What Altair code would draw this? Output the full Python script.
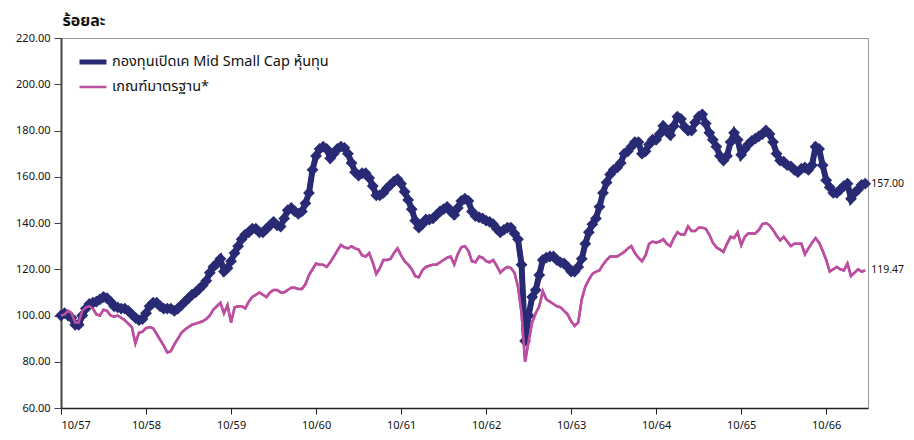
import altair as alt
import pandas as pd
import numpy as np

# half-month steps from 10/57
fund = [100,101,100,99,96,96,100,103,105,105.5,106,107,108,107.5,106,104,103.5,103,103,102,
        100.5,99,98,98.5,101,104,105.5,105.5,104,103,103,103,102,103,104.5,106,107.5,109,110,111.5,
        113,115,118.5,121,122.5,124.5,119,120.5,123.5,127,130,133,135,136,137.5,137.5,136,136,137.5,139,
        140.5,139,138.5,142,145.5,146.5,145,144,145,148.5,153,163,169,172,173,172,168,170,172,173,
        172.5,170,166,162,160.5,161.5,161.5,159.5,156,152,152,153,155,156.5,158,159,157,153.5,150,146,
        141,138,139.5,141.5,141.5,142,143.5,145,146,147,145,143.5,146.5,149.5,150.5,149.5,145,143,142.5,142,
        141,140.5,139.5,137.5,136,137,138,138,135.5,133,122,89,100,108,111,117.5,124,125,125.5,125.5,
        124,123,122.5,121,119,119,121,124.5,131,136,139.5,142,147,153,157.5,161,163,164,166,170,
        171,173,175,175,170,171,174,176,176,178.5,182,180,178,182,186,185,181.5,180,180,183.5,
        186,187,183,179,176,173,169,167,169,175,179,176,169.5,172,174,175.5,176.5,177.5,178.5,180,
        178.5,175,170,167,166.5,165,164.5,163,162,163.5,164,163,165,173,172,165,158.5,155.5,153,153,
        154.5,156,157,150.5,153,154.5,156.5,157]
bench = [100,100.5,102,101,97,97,102,103.5,104,103,100.5,100,102.5,102,100,99.5,100,99,98,96.5,
         95,88,92.5,93,94.5,95,94.5,92,89.5,87,84,84.5,87.5,90,92.5,94,95,96,96.5,97,
         97.5,98.5,100,102.5,104,105.5,101,104.5,97,103.5,104,104,103,106,108,109,110,109,108,110,
         111,111,110,110,111,112,112,111.5,111.5,113.5,117.5,120,122.5,122,122,121,123,125.5,128,130.5,
         129.5,129,130,129,128.5,126,125.5,127,123,118,120.5,124,124,124.5,127,129,126,123.5,122,120,
         117,116.5,119.5,121,121.5,122,122,123,124,125,125.5,122,126.5,129.5,130,128,123.5,123,125.5,125,
         123.5,123,124,121.5,118.5,120,121,120.5,118.5,112.5,101,80,89,97,101,104,110.5,107,106,105,
         104,103.5,102,100.5,97.5,95.5,97,107,112.5,115.5,118,119,119.5,122,124,125.5,125.5,125.5,126.5,127.5,
         129,130,127,125,123.5,126,131,132,131.5,132,133,131,130,133.5,136,135,135,138.5,136.5,136.5,
         138,138,137.5,135,131.5,129.5,128.5,127.5,131,134,133.5,136,130.5,134,135.5,135.5,135.5,137,139.5,140,
         139,137,134.5,132.5,134,132,130,131,131,131,126.5,129,131.5,133.5,131.5,128,124,119,120,121,
         120,119.5,122.5,117,118.5,120,119,119.47]

months = np.arange(len(fund)) * 0.5
series_names = ["กองทุนเปิดเค Mid Small Cap หุ้นทุน", "เกณฑ์มาตรฐาน*"]
colors = ["#282A74", "#BC4FA0"]
tick_months = [0, 12, 24, 36, 48, 60, 72, 84, 96, 108]
y_ticks = [60, 80, 100, 120, 140, 160, 180, 200, 220]

df = pd.concat([
    pd.DataFrame({"m": months, "v": fund, "s": series_names[0], "o": 0}),
    pd.DataFrame({"m": months, "v": bench, "s": series_names[1], "o": 1}),
])
last = df.groupby("s", as_index=False).last()

FONT = "Noto Sans Thai, Noto Sans, DejaVu Sans, sans-serif"

xs = alt.Scale(domain=[0, 113.9], nice=False, zero=False)
ys = alt.Scale(domain=[60, 220], nice=False, zero=False)

x_enc = alt.X("m:Q", scale=xs, axis=alt.Axis(
    values=tick_months, labelExpr="'10/' + (57 + datum.value/12)", title=None, grid=False,
    tickSize=6, labelPadding=5, labelFontSize=11, domainColor="#222", domainWidth=1.5,
    tickColor="#222", labelColor="#111"))
y_enc = alt.Y("v:Q", scale=ys, axis=alt.Axis(
    values=y_ticks, format=".2f", title="ร้อยละ", titleAngle=0, titleAlign="left",
    titleBaseline="bottom", titleX=1, titleY=-10, titleFontSize=16, titleFontWeight="bold",
    titleColor="#111", grid=False, tickSize=7, labelPadding=4, labelFontSize=11,
    domainColor="#444", domainWidth=2, tickColor="#444", labelColor="#111"))

legend = alt.Legend(title=None, orient="none", legendX=16, legendY=8, symbolType="stroke",
                    symbolSize=729, labelFontSize=14.5, labelColor="#111", rowPadding=0,
                    labelOffset=3, labelLimit=400, padding=0)

lines = alt.Chart(df).mark_line().encode(
    x=x_enc, y=y_enc,
    color=alt.Color("s:N", scale=alt.Scale(domain=series_names, range=colors), legend=legend),
    strokeWidth=alt.StrokeWidth("s:N", scale=alt.Scale(domain=series_names, range=[5, 2.5]), legend=legend),
    order=alt.Order("o:Q", sort="descending"),
    detail="s:N",
)

fund_line = alt.Chart(df[df["o"] == 0]).mark_line(color=colors[0], strokeWidth=6).encode(x="m:Q", y="v:Q")
pts = alt.Chart(df[df["o"] == 0]).mark_point(shape="diamond", filled=True, color=colors[0],
                                              size=140, opacity=1).encode(x="m:Q", y="v:Q")
bench_line = alt.Chart(df[df["o"] == 1]).mark_line(color=colors[1], strokeWidth=2.5).encode(x="m:Q", y="v:Q")

labels = alt.Chart(last).mark_text(align="left", dx=6, fontSize=10.5, color="#111").encode(
    x="m:Q", y="v:Q", text=alt.Text("v:Q", format=".2f"))

chart = alt.layer(lines, fund_line, pts, bench_line, labels).properties(
    width=807, height=370,
    autosize=alt.AutoSizeParams(type="none"),
    padding={"left": 53, "top": 30, "right": 38, "bottom": 24},
).configure(font=FONT).configure_view(stroke="#999", strokeWidth=1)

chart.save("out.html", embed_options={"renderer": "svg", "actions": False})
